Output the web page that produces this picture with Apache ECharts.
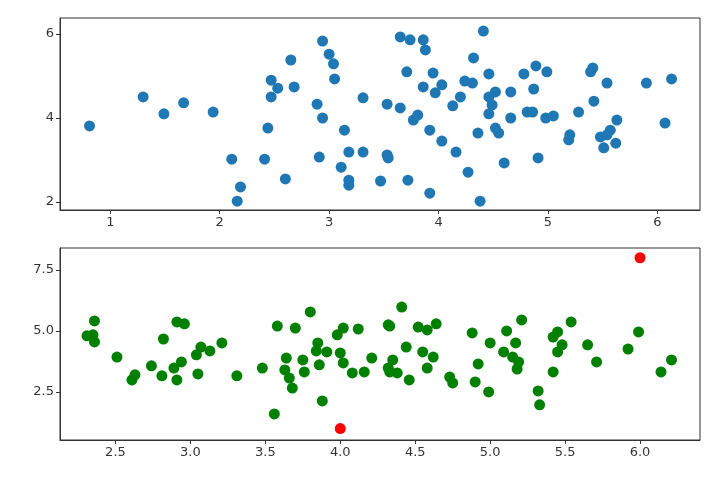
<!DOCTYPE html>
<html><head><meta charset="utf-8">
<script src="https://cdn.jsdelivr.net/npm/echarts@6/dist/echarts.min.js"></script>
<style>html,body{margin:0;padding:0;background:#fff}#c{width:720px;height:485px}</style>
</head><body><div id="c"></div>
<script>
var topX=[0.81,1.30,1.49,1.67,1.94,2.11,2.19,2.16,2.41,2.60,2.44,2.47,2.53,2.47,2.65,2.68,2.94,3.00,3.04,3.05,2.89,2.94,3.14,2.91,3.11,3.18,3.31,3.18,3.18,3.47,3.31,3.53,3.53,3.65,3.74,3.86,3.88,4.41,4.32,3.71,3.95,3.86,3.97,4.03,4.24,4.31,4.46,4.78,4.89,4.99,4.87,5.41,5.39,5.54,5.90,6.13,3.65,4.13,4.20,4.46,4.52,4.66,4.49,4.46,3.81,3.77,4.66,4.81,4.86,4.98,5.05,5.28,5.42,3.92,4.03,4.16,4.36,4.52,4.55,5.19,5.20,5.48,5.51,5.62,5.57,5.63,5.54,6.07,3.54,3.72,3.92,4.27,4.60,4.91,4.38];
var topY=[3.81,4.50,4.10,4.36,4.14,3.02,2.36,2.02,3.02,2.55,3.76,4.90,4.71,4.50,5.38,4.74,5.83,5.52,5.29,4.93,4.33,4.00,3.71,3.07,2.83,3.19,3.19,2.52,2.40,2.50,4.48,4.33,3.12,5.93,5.86,5.86,5.62,6.07,5.43,5.10,5.07,4.74,4.60,4.79,4.88,4.83,5.05,5.05,5.24,5.10,4.69,5.19,5.10,4.83,4.83,4.93,4.24,4.29,4.50,4.50,4.62,4.62,4.31,4.10,4.07,3.95,4.00,4.14,4.14,4.00,4.05,4.14,4.40,3.71,3.45,3.19,3.64,3.76,3.64,3.48,3.60,3.55,3.29,3.40,3.71,3.95,3.60,3.88,3.05,2.52,2.21,2.71,2.93,3.05,2.02];
var botX=[2.36,2.31,2.36,2.35,2.51,2.61,2.63,2.74,2.82,2.91,2.96,2.81,2.89,2.91,2.94,3.04,3.07,3.13,3.21,3.05,3.31,3.48,3.58,3.70,3.80,3.64,3.63,3.66,3.68,3.75,3.76,3.85,3.84,3.86,3.91,4.00,4.02,3.98,4.02,4.12,4.08,4.16,4.21,4.32,4.32,3.56,3.88,4.41,4.33,4.52,4.58,4.64,4.44,4.55,4.62,4.58,4.35,4.33,4.38,4.46,4.73,4.75,4.88,5.00,4.92,4.90,4.99,5.11,5.17,5.21,5.09,5.15,5.19,5.18,5.32,5.33,5.42,5.45,5.48,5.45,5.42,5.54,5.65,5.71,5.92,5.99,6.14,6.21];
var botY=[5.41,4.80,4.55,4.84,3.93,2.99,3.20,3.57,4.67,5.37,5.29,3.16,3.48,2.99,3.73,4.02,4.34,4.18,4.51,3.24,3.16,3.48,5.20,5.12,5.78,3.89,3.40,3.07,2.66,3.81,3.32,4.51,4.18,3.61,4.14,4.10,3.69,4.84,5.12,5.08,3.28,3.32,3.89,5.25,3.48,1.60,2.13,5.98,5.20,5.16,5.04,5.29,4.34,4.14,3.93,3.48,3.81,3.32,3.28,2.99,3.11,2.87,4.92,4.51,3.65,2.91,2.50,5.00,4.51,5.45,4.14,3.93,3.73,3.44,2.54,1.97,4.75,4.96,4.43,4.14,3.32,5.37,4.43,3.73,4.26,4.96,3.32,3.81];
var outX=[4,6];
var outY=[1,8];
var topXTicks=[1,2,3,4,5,6];
var topYTicks=[2,4,6];
var botXTicks=[2.5,3.0,3.5,4.0,4.5,5.0,5.5,6.0];
var botYTicks=[2.5,5.0,7.5];

function zip(a,b){return a.map(function(v,i){return [v,b[i]];});}
var lab={color:'#333',fontSize:13,fontFamily:'DejaVu Sans',margin:6};
function ax(min,max,ticks,fmt){
  return {type:'value',min:min,max:max,
    axisLine:{show:true,onZero:false,lineStyle:{color:'#333'}},
    axisTick:{show:true,customValues:ticks,length:4,lineStyle:{color:'#333'}},
    axisLabel:Object.assign({customValues:ticks,formatter:fmt},lab),
    splitLine:{show:false}};
}
var f0=function(v){return String(Math.round(v));};
var f1=function(v){return v.toFixed(1);};
var chart=echarts.init(document.getElementById('c'));
chart.setOption({
  animation:false,
  grid:[{left:60,right:20,top:18,height:192,show:true,borderColor:'#333',borderWidth:1},
        {left:60,right:20,top:248,height:192,show:true,borderColor:'#333',borderWidth:1}],
  xAxis:[Object.assign(ax(0.54,6.39,topXTicks,f0),{gridIndex:0}),
         Object.assign(ax(2.13,6.40,botXTicks,f1),{gridIndex:1})],
  yAxis:[Object.assign(ax(1.81,6.38,topYTicks,f0),{gridIndex:0}),
         Object.assign(ax(0.53,8.40,botYTicks,f1),{gridIndex:1})],
  series:[
    {type:'scatter',xAxisIndex:0,yAxisIndex:0,data:zip(topX,topY),symbolSize:11,itemStyle:{color:'#1f77b4',opacity:1}},
    {type:'scatter',xAxisIndex:1,yAxisIndex:1,data:zip(botX,botY),symbolSize:11,itemStyle:{color:'#008000',opacity:1}},
    {type:'scatter',xAxisIndex:1,yAxisIndex:1,data:zip(outX,outY),symbolSize:11,itemStyle:{color:'#ff0000',opacity:1}}
  ]
});
</script></body></html>
